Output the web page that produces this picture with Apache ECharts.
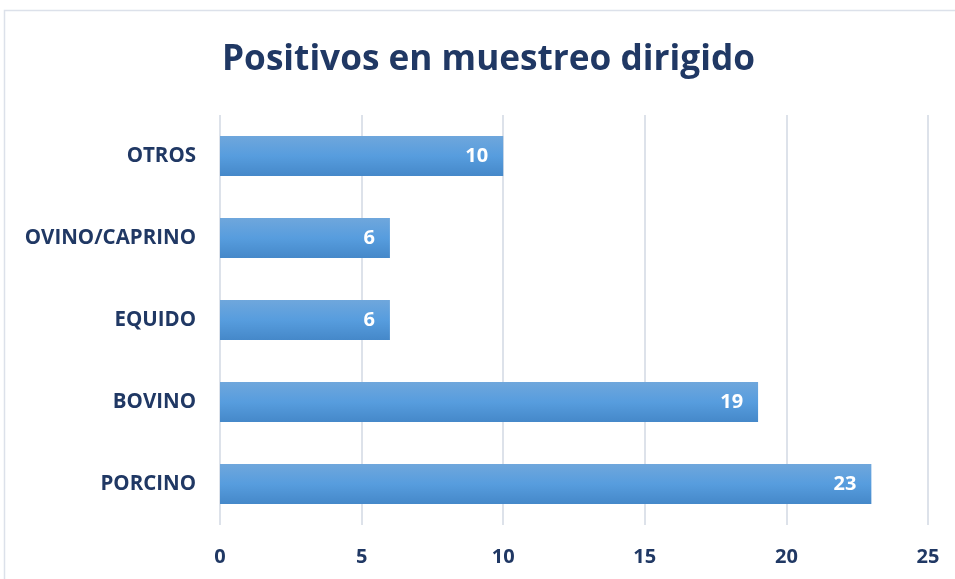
<!DOCTYPE html>
<html><head><meta charset="utf-8">
<script src="https://cdn.jsdelivr.net/npm/echarts@6/dist/echarts.min.js"></script>
<style>html,body{margin:0;padding:0;background:#fff}#c{width:955px;height:579px}</style>
</head><body><div id="c"></div>
<script>
const titleText = 'Positivos en muestreo dirigido';
const categories = ['PORCINO', 'BOVINO', 'EQUIDO', 'OVINO/CAPRINO', 'OTROS'];
const values = [23, 19, 6, 6, 10];
const xTicks = [0, 5, 10, 15, 20, 25];

const navy = '#203864';
const chart = echarts.init(document.getElementById('c'));
chart.setOption({
  animation: false,
  backgroundColor: '#fff',
  graphic: [{
    type: 'rect', shape: {x: 4.5, y: 10.5, width: 1000, height: 1000},
    style: {fill: 'none', stroke: '#DCE1EA', lineWidth: 1.5}, silent: true, z: -1
  }],
  title: {
    text: titleText, left: 217, top: 37,
    textStyle: {fontFamily: 'Open Sans', fontWeight: 'bold', fontSize: 35.2, color: navy}
  },
  grid: {left: 220, right: 27, top: 115, bottom: 54, containLabel: false},
  xAxis: {
    type: 'value', min: xTicks[0], max: xTicks[xTicks.length - 1], interval: 5,
    axisLine: {show: false}, axisTick: {show: false},
    splitLine: {lineStyle: {color: '#DDE2EA', width: 2}},
    axisLabel: {margin: 22, fontFamily: 'Open Sans', fontWeight: 'bold', fontSize: 20, color: navy}
  },
  yAxis: {
    type: 'category', data: categories,
    axisLine: {show: false}, axisTick: {show: false},
    axisLabel: {margin: 24, fontFamily: 'Open Sans', fontWeight: 'bold', fontSize: 20.5, color: navy}
  },
  series: [{
    type: 'bar', data: values, barCategoryGap: '51%',
    itemStyle: {color: new echarts.graphic.LinearGradient(0, 0, 0, 1, [
      {offset: 0, color: '#6FA7DC'}, {offset: 0.5, color: '#579DDE'}, {offset: 1, color: '#4588C9'}
    ])},
    label: {show: true, position: 'insideRight', offset: [-10, 0], color: '#fff',
      fontFamily: 'Open Sans', fontWeight: 'bold', fontSize: 20}
  }]
});
</script></body></html>
